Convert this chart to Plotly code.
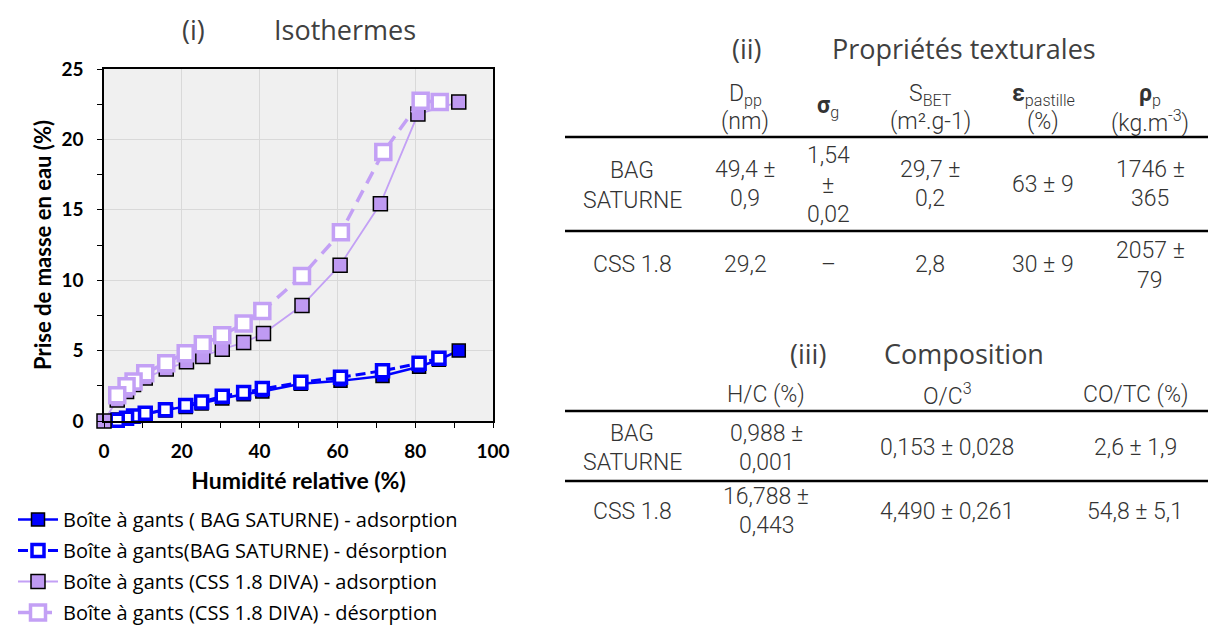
import plotly.graph_objects as go

# ---------------- data ----------------
bag_ads_x = [3.4, 5.8, 7.6, 10.6, 15.8, 21, 25.1, 30.4, 35.9, 40.7, 50.6, 60.8, 71.6, 81, 86.1, 91.2]
bag_ads_y = [0.1, 0.2, 0.3, 0.5, 0.75, 1.0, 1.25, 1.6, 1.9, 2.1, 2.65, 2.85, 3.2, 3.85, 4.35, 5.0]
bag_des_x = [86.1, 81, 71.6, 60.8, 50.6, 40.7, 35.9, 30.4, 25.1, 21, 15.8, 10.6, 7.6, 5.8, 3.4]
bag_des_y = [4.45, 4.1, 3.57, 3.1, 2.75, 2.3, 2.03, 1.75, 1.35, 1.1, 0.8, 0.55, 0.35, 0.2, 0.05]

css_ads_x = [0, 3.4, 5.8, 7.6, 10.6, 16, 21.2, 25.4, 30.4, 35.9, 41, 50.9, 60.7, 71.05, 80.7, 91.2]
css_ads_y = [0, 1.5, 2.1, 2.6, 3.05, 3.69, 4.2, 4.58, 5.1, 5.57, 6.21, 8.2, 11.07, 15.43, 21.8, 22.65]
css_des_x = [86.3, 81.4, 71.8, 60.9, 50.9, 40.7, 35.9, 30.4, 25.4, 21, 16, 10.6, 7.6, 5.8, 3.4]
css_des_y = [22.65, 22.75, 19.1, 13.4, 10.3, 7.81, 6.92, 6.09, 5.45, 4.82, 4.11, 3.40, 2.81, 2.46, 1.82]

series_names = [
    "Boîte à gants ( BAG SATURNE) - adsorption",
    "Boîte à gants(BAG SATURNE) - désorption",
    "Boîte à gants (CSS 1.8 DIVA) - adsorption",
    "Boîte à gants (CSS 1.8 DIVA) - désorption",
]

x_ticks = [0, 20, 40, 60, 80, 100]
y_ticks = [0, 5, 10, 15, 20, 25]

# texture table (ii)
tex_headers = [["D<sub>pp</sub>", "(nm)"], ["<b>σ</b><sub>g</sub>"], ["S<sub>BET</sub>", "(m².g-1)"],
               ["<b>ε</b><sub>pastille</sub>", "(%)"], ["<b>ρ</b><sub>p</sub>", "(kg.m<sup>-3</sup>)"]]
tex_rows = ["BAG SATURNE", "CSS 1.8"]
tex_bag = [["49,4 ±", "0,9"], ["1,54", "±", "0,02"], ["29,7 ±", "0,2"], ["63 ± 9"], ["1746 ±", "365"]]
tex_css = [["29,2"], ["–"], ["2,8"], ["30 ± 9"], ["2057 ±", "79"]]

# composition table (iii)
comp_headers = ["H/C (%)", "O/C<sup>3</sup>", "CO/TC (%)"]
comp_bag = [["0,988 ±", "0,001"], ["0,153 ± 0,028"], ["2,6 ± 1,9"]]
comp_css = [["16,788 ±", "0,443"], ["4,490 ± 0,261"], ["54,8 ± 5,1"]]

# ---------------- layout geometry ----------------
W, H = 1208, 628
L, R, T, B = 104, 493, 69, 421
PW, PH = R - L, B - T


def px(x):
    return (x - L) / PW


def py(y):
    return (B - y) / PH


BLUE = "#0000FF"
LAV = "#C3A0F5"
LAV_FILL = "#BF9AF2"

fig = go.Figure()

fig.add_trace(go.Scatter(
    x=bag_ads_x, y=bag_ads_y, name=series_names[0], mode="lines+markers",
    line=dict(color=BLUE, width=2.5),
    marker=dict(symbol="square", size=13, color=BLUE, line=dict(color="black", width=1.5)),
    legendgroup="a", cliponaxis=False))
fig.add_trace(go.Scatter(
    x=bag_des_x, y=bag_des_y, name=series_names[1], mode="lines+markers",
    line=dict(color=BLUE, width=3, dash="10px,5px"),
    marker=dict(symbol="square", size=12, color="white", line=dict(color=BLUE, width=3.5)),
    legendgroup="b", cliponaxis=False))
fig.add_trace(go.Scatter(
    x=css_ads_x, y=css_ads_y, name=series_names[2], mode="lines+markers",
    line=dict(color=LAV, width=1.8),
    marker=dict(symbol="square", size=14, color=LAV_FILL, line=dict(color="black", width=1.5)),
    legendgroup="c", cliponaxis=False))
fig.add_trace(go.Scatter(
    x=css_des_x, y=css_des_y, name=series_names[3], mode="lines+markers",
    line=dict(color=LAV, width=3.5, dash="13px,8px"),
    marker=dict(symbol="square", size=15, color="white", line=dict(color=LAV, width=3.5)),
    legendgroup="d", cliponaxis=False))

tickfont = dict(family="Lato, Carlito, Calibri, sans-serif", size=19, color="black", weight="bold")

fig.update_xaxes(
    range=[0, 100], tickvals=x_ticks, ticktext=[str(v) for v in x_ticks],
    showgrid=True, gridcolor="#D9D9D9", gridwidth=1,
    showline=True, linecolor="black", linewidth=1.5, mirror=True,
    ticks="outside", ticklen=5, tickcolor="black", tickwidth=1,
    minor=dict(dtick=10, ticks="outside", ticklen=5, tickcolor="black", showgrid=False),
    tickfont=tickfont, zeroline=False, ticklabelstandoff=7,
    title=dict(text="<b>Humidité relative (%)</b>", font=dict(family="Lato, sans-serif", size=23, color="black"), standoff=12),
)
fig.update_yaxes(
    range=[0, 25], tickvals=y_ticks, ticktext=[str(v) for v in y_ticks],
    showgrid=True, gridcolor="#D9D9D9", gridwidth=1,
    showline=True, linecolor="black", linewidth=1.5, mirror=True,
    ticks="outside", ticklen=5, tickcolor="black", tickwidth=1,
    minor=dict(dtick=2.5, ticks="outside", ticklen=5, tickcolor="black", showgrid=False),
    tickfont=tickfont, zeroline=False, ticklabelstandoff=10,
    title=dict(text="<b>Prise de masse en eau (%)</b>", font=dict(family="Lato, sans-serif", size=22, color="black"), standoff=4),
)

annotations = []


def ann(x, y, text, size=23, color="#333333", family="Roboto, 'Noto Sans', sans-serif", weight=300, xanchor="center"):
    annotations.append(dict(
        x=px(x), y=py(y), xref="paper", yref="paper", text=text, showarrow=False,
        xanchor=xanchor, yanchor="middle",
        font=dict(size=size, color=color, family=family, weight=weight)))


TITLE_FONT = "'Open Sans', sans-serif"
# chart title
ann(193, 29, "(i)", size=27, color="#404040", family=TITLE_FONT, weight=400)
ann(345, 29, "Isothermes", size=27, color="#404040", family=TITLE_FONT, weight=400)

# table (ii)
ann(747, 49, "(ii)", size=27, color="#404040", family=TITLE_FONT, weight=400)
ann(964, 49, "Propriétés texturales", size=27, color="#404040", family=TITLE_FONT, weight=400)
col_x = [745, 828, 930, 1043, 1150]
for cx, hdr in zip(col_x, tex_headers):
    if len(hdr) == 2:
        ann(cx, 95, hdr[0])
        ann(cx, 121, hdr[1])
    else:
        ann(cx, 107, hdr[0])
label_x = 632
ann(label_x, 170, "BAG")
ann(label_x, 200, "SATURNE")
ann(label_x, 264, tex_rows[1])
for cx, vals in zip(col_x, tex_bag):
    n = len(vals)
    if n == 1:
        ys = [184]
    elif n == 2:
        ys = [169, 199]
    else:
        ys = [155, 185, 214]
    for yy, v in zip(ys, vals):
        ann(cx, yy, v)
for cx, vals in zip(col_x, tex_css):
    if len(vals) == 1:
        ys = [264]
    else:
        ys = [250, 280]
    for yy, v in zip(ys, vals):
        ann(cx, yy, v)

# table (iii)
ann(808, 353, "(iii)", size=27, color="#404040", family=TITLE_FONT, weight=400)
ann(964, 353, "Composition", size=27, color="#404040", family=TITLE_FONT, weight=400)
comp_x = [766, 947, 1135]
for cx, h in zip(comp_x, comp_headers):
    ann(cx, 394, h)
ann(label_x, 433, "BAG")
ann(label_x, 462, "SATURNE")
ann(label_x, 511, "CSS 1.8")
for cx, vals in zip(comp_x, comp_bag):
    ys = [433, 462] if len(vals) == 2 else [447]
    for yy, v in zip(ys, vals):
        ann(cx, yy, v)
for cx, vals in zip(comp_x, comp_css):
    ys = [496, 525] if len(vals) == 2 else [511]
    for yy, v in zip(ys, vals):
        ann(cx, yy, v)

shapes = []
for yy in [137, 231, 411, 481]:
    shapes.append(dict(type="line", xref="paper", yref="paper", x0=px(565), x1=px(1208),
                       y0=py(yy), y1=py(yy), line=dict(color="black", width=2.5)))

fig.update_layout(
    width=W, height=H,
    margin=dict(l=L, r=W - R, t=T, b=H - B, autoexpand=False),
    paper_bgcolor="white", plot_bgcolor="#F0F0F0",
    showlegend=True,
    legend=dict(x=px(13), y=py(500), xanchor="left", yanchor="top",
                font=dict(family="'Open Sans', sans-serif", size=20, color="black"),
                traceorder="grouped", tracegroupgap=2, bgcolor="rgba(0,0,0,0)",
                itemwidth=40),
    annotations=annotations, shapes=shapes,
)

fig.write_html("out.html", config={"displayModeBar": False},
               post_script="document.body.style.margin='0px';")
